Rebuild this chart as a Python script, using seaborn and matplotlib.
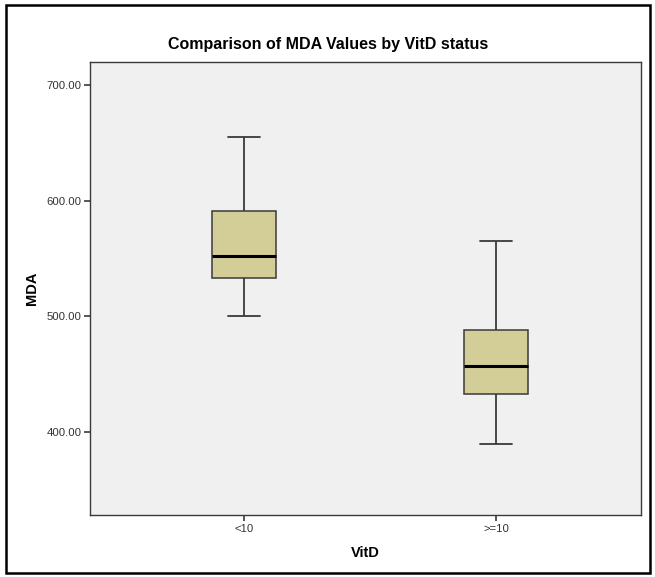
import matplotlib
matplotlib.use("Agg")
import matplotlib.pyplot as plt
import seaborn as sns
import pandas as pd
from matplotlib.patches import Rectangle

# Data (min, Q1, median, Q3, max per group)
categories = ["<10", ">=10"]
lt10_values = [500.0, 533.0, 552.5, 591.0, 655.0]
ge10_values = [390.0, 433.0, 457.0, 488.0, 565.0]
y_ticks = [400, 500, 600, 700]

df = pd.DataFrame({
    "VitD": [categories[0]] * len(lt10_values) + [categories[1]] * len(ge10_values),
    "MDA": lt10_values + ge10_values,
})

sns.set_theme(style="white")
plt.rcParams["font.family"] = ["Liberation Sans", "DejaVu Sans"]

fig = plt.figure(figsize=(6.55, 5.77), dpi=100)
ax = fig.add_axes([0.137, 0.107, 0.842, 0.786])
ax.set_facecolor("#f0f0f0")

sns.boxplot(
    data=df, x="VitD", y="MDA", order=categories, ax=ax,
    color="#d3ce97", saturation=1, width=0.254, whis=(0, 100),
    linewidth=1.1, linecolor="#3a3a3a",
    medianprops=dict(color="black", linewidth=2.2),
    capprops=dict(color="#3a3a3a", linewidth=1.3),
    whiskerprops=dict(color="#3a3a3a", linewidth=1.3),
    capwidths=0.127,
)

ax.set_xlim(-0.611, 1.575)
ax.set_ylim(328.2, 720)
ax.set_yticks(y_ticks)
ax.set_yticklabels([f"{v:.2f}" for v in y_ticks])

for s in ax.spines.values():
    s.set_visible(True)
    s.set_color("#3a3a3a")
    s.set_linewidth(1.0)

ax.tick_params(axis="both", which="both", direction="out", length=4, width=1.2,
               color="#3a3a3a", labelsize=8.2, labelcolor="#333333",
               left=True, bottom=True, top=False, right=False, pad=2)

ax.set_xlabel("VitD", fontsize=10.5, fontweight="bold", color="black", labelpad=9)
ax.set_ylabel("MDA", fontsize=10.5, fontweight="bold", color="black", labelpad=5)
fig.text(0.5015, 1 - 45 / 577, "Comparison of MDA Values by VitD status",
         fontsize=11.5, fontweight="bold", color="black",
         ha="center", va="center")

# outer figure border
fig.patches.append(Rectangle((6 / 655, 4 / 577), 644 / 655, 568 / 577,
                             transform=fig.transFigure, fill=False,
                             edgecolor="black", linewidth=1.8))

fig.savefig("out.png", dpi=100)
